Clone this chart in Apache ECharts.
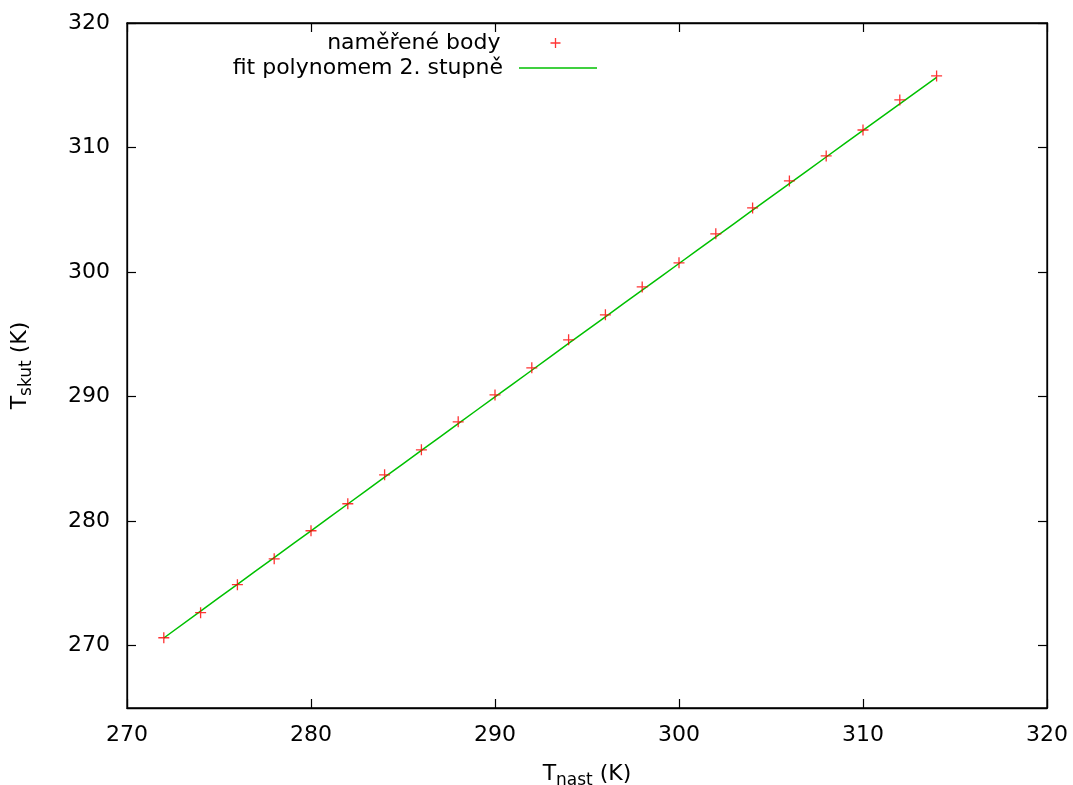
<!DOCTYPE html>
<html><head><meta charset="utf-8">
<script src="https://cdn.jsdelivr.net/npm/echarts@6/dist/echarts.min.js"></script>
<style>html,body{margin:0;padding:0;background:#fff}#c{width:1073px;height:785px}</style>
</head><body><div id="c"></div>
<script>
const tNast = [272,274,276,278,280,282,284,286,288,290,292,294,296,298,300,302,304,306,308,310,312,314];
const tSkut = [270.64,272.65,274.9,276.98,279.23,281.4,283.72,285.73,287.98,290.14,292.31,294.56,296.57,298.81,300.74,303.07,305.15,307.32,309.33,311.41,313.82,315.75];
const fitVals = [270.62,272.78,274.93,277.08,279.23,281.38,283.53,285.68,287.83,289.98,292.12,294.27,296.41,298.55,300.69,302.83,304.97,307.11,309.24,311.38,313.51,315.64];
const seriesNames = ['naměřené body', 'fit polynomem 2. stupně'];
const xTicks = [270,280,290,300,310,320];
const yTicks = [270,280,290,300,310,320];

const FONT = 'DejaVu Sans';
const FS = 22;
const plus = 'path://M0,5L10,5M5,0L5,10';
const plusLegend = 'path://M0,0L0,0M78,10L78,10M34,5L44,5M39,0L39,10';
const chart = echarts.init(document.getElementById('c'), null, {renderer:'canvas'});
const tick = {show:true,inside:true,length:9,lineStyle:{color:'#000',width:1.2}};
const line = {show:true,lineStyle:{color:'#000',width:1.3}};
const nameRich = {t:{fontFamily:FONT,fontSize:FS,color:'#000'},s:{fontFamily:FONT,fontSize:17,color:'#000',padding:[12,0,0,0]}};
chart.setOption({
  animation:false,
  textStyle:{fontFamily:FONT},
  grid:{left:127,top:23,right:26,bottom:77,show:true,borderColor:'#000',borderWidth:1.3,outerBoundsMode:'none',containLabel:false},
  legend:[{
    data:[{name:seriesNames[0],icon:plusLegend,itemStyle:{color:'none',borderColor:'#ff0000',borderWidth:1.3}}],
    orient:'vertical', right:476, top:32, align:'right', padding:0,
    itemWidth:78, itemHeight:10, symbolKeepAspect:false,
    textStyle:{fontFamily:FONT,fontSize:FS,color:'#000',padding:[0,11,0,0]}
  },{
    data:[{name:seriesNames[1],icon:'rect',itemStyle:{color:'#00c000'}}],
    orient:'vertical', right:476, top:57, align:'right', padding:0,
    itemWidth:78, itemHeight:1.5,
    textStyle:{fontFamily:FONT,fontSize:FS,color:'#000',padding:[0,11,0,0]}
  }],
  xAxis:[{
    type:'value', min:270, max:320, interval:10, position:'bottom',
    axisLine:line, axisTick:tick, splitLine:{show:false},
    axisLabel:{fontFamily:FONT,fontSize:FS,color:'#000',margin:16},
    name:'{t|T}{s|nast}{t| (K)}', nameLocation:'middle', nameGap:52,
    nameTextStyle:{rich:nameRich}
  },{
    type:'value', min:270, max:320, interval:10, position:'top',
    axisLine:line, axisTick:tick, splitLine:{show:false}, axisLabel:{show:false}
  }],
  yAxis:[{
    type:'value', min:265, max:320, position:'left',
    axisLine:line, splitLine:{show:false},
    axisTick:{...tick, customValues:yTicks},
    axisLabel:{fontFamily:FONT,fontSize:FS,color:'#000',margin:17, customValues:yTicks},
    name:'{t|T}{s|skut}{t| (K)}', nameLocation:'middle', nameGap:92, nameRotate:90,
    nameTextStyle:{rich:nameRich}
  },{
    type:'value', min:265, max:320, position:'right',
    axisLine:line, splitLine:{show:false}, axisLabel:{show:false},
    axisTick:{...tick, customValues:yTicks}
  }],
  series:[{
    name:seriesNames[1], type:'line', xAxisIndex:0, yAxisIndex:0,
    data:tNast.map((x,i)=>[x,fitVals[i]]), showSymbol:false, symbol:'none', smooth:true,
    lineStyle:{color:'#00c000',width:1.5}, itemStyle:{color:'#00c000'}, z:2
  },{
    name:seriesNames[0], type:'scatter', xAxisIndex:0, yAxisIndex:0,
    data:tNast.map((x,i)=>[x,tSkut[i]]), symbol:plus, symbolSize:11,
    itemStyle:{color:'none',borderColor:'#ff0000',borderWidth:1.3}, z:3
  }]
});
</script></body></html>
